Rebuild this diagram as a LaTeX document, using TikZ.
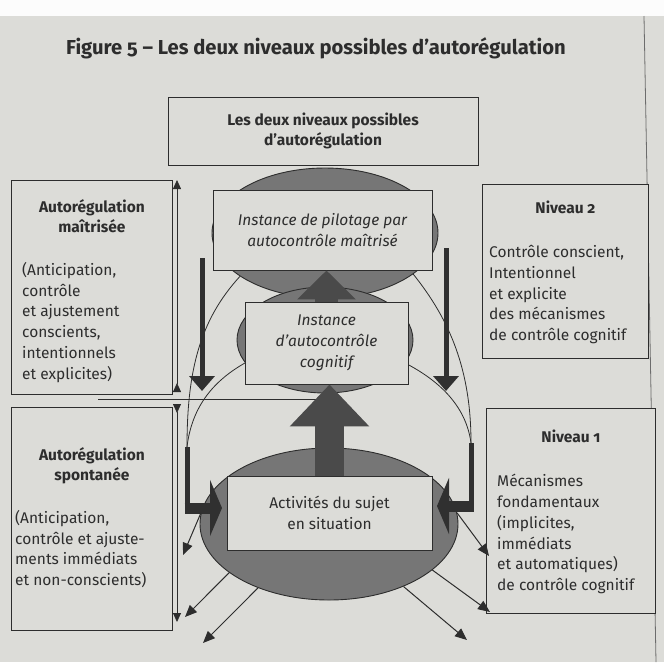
\documentclass[tikz,border=0pt]{standalone}
\usepackage{fontspec}
\setmainfont{Fira Sans}[Numbers=OldStyle]
\usetikzlibrary{positioning, arrows.meta, shapes.geometric}

\definecolor{paper}{RGB}{220,220,216}
\definecolor{ink}{RGB}{45,45,45}
\definecolor{blobgray}{RGB}{118,118,118}
\definecolor{arrowgray}{RGB}{74,74,74}
\definecolor{bargray}{RGB}{48,48,48}

\newcommand{\txt}{\fontsize{15.5}{20.8}\selectfont}

\begin{document}
\begin{tikzpicture}[x=1pt, y=-1pt,
    box/.style={draw=ink, line width=0.9pt, fill=paper, inner sep=0pt},
    blob/.style={ellipse, draw=ink, line width=0.9pt, fill=blobgray, inner sep=0pt},
    inbox/.style={box, align=center, text=ink, font=\txt\itshape},
    label/.style={inner sep=0pt, text=ink, font=\txt},
    head/.style={label, align=center, font=\txt\bfseries},
    body/.style={label, align=left, anchor=north west},
    thin/.style={ink, line width=0.8pt},
    ray/.style={ink, line width=1pt, -{Triangle[length=12pt, width=10pt]}},
    span/.style={thin, {Triangle[reversed, length=9pt, width=8pt]}-{Triangle[length=9pt, width=8pt]}}]
    \fill[paper] (0,0) rectangle (664,662);
    \fill[white!92!paper] (0,0) rectangle (664,16);
    \draw[ink!70, line width=0.8pt] (644,16) -- (656,662);
    \useasboundingbox (0,0) rectangle (664,662);

    \node[label, font=\fontsize{20.2}{24}\selectfont\bfseries] (title) at (316,48) {Figure 5 – Les deux niveaux possibles d’autorégulation};
    \node[box, minimum width=310pt, minimum height=68pt, align=center, text=ink, font=\txt\bfseries] (twolevels) at (323,131) {Les deux niveaux possibles\\d’autorégulation};

    % side boxes
    \node[box, anchor=north west, minimum width=161pt, minimum height=214pt] (mastered) at (11,180) {};
    \node[head, below=19pt of mastered.north] (masteredhead) {Autorégulation\\maîtrisée};
    \node[body, below right=82pt and 11pt of mastered.north west] (masteredtxt) {(Anticipation,\\contrôle\\et ajustement\\conscients,\\intentionnels\\et explicites)};
    \node[box, anchor=north west, minimum width=161pt, minimum height=223pt] (spont) at (11,407) {};
    \node[head, below=40pt of spont.north] (sponthead) {Autorégulation\\spontanée};
    \node[body, below right=103pt and 4pt of spont.north west] (sponttxt) {(Anticipation,\\contrôle et ajuste-\\ments immédiats\\et non-conscients)};
    \node[box, anchor=north west, minimum width=166pt, minimum height=174pt] (level2) at (482,184) {};
    \node[head, below=17pt of level2.north] (level2head) {Niveau 2};
    \node[body, below right=61pt and 7pt of level2.north west] (level2txt) {Contrôle conscient,\\Intentionnel\\et explicite\\des mécanismes\\de contrôle cognitif};
    \node[box, anchor=north west, minimum width=169pt, minimum height=205pt] (level1) at (486,408) {};
    \node[head, below=22pt of level1.north] (level1head) {Niveau 1};
    \node[body, below right=66pt and 11pt of level1.north west] (level1txt) {Mécanismes\\fondamentaux\\(implicites,\\immédiats\\et automatiques)\\de contrôle cognitif};

    \coordinate (spanAbot) at (177,392);
    \coordinate (spanAtop) at (177,180);
    \coordinate (spanBtop) at (177,404);
    \coordinate (spanBbot) at (177,622);
    \draw[span] (spanAbot) -- (spanAtop);
    \draw[span] (spanBtop) -- (spanBbot);
    \coordinate (sepL) at (98,399);
    \coordinate (sepR) at (325,399);
    \draw[thin] (sepL) -- (sepR);

    % centre
    \node[blob, minimum width=226pt, minimum height=130pt] (pilotblob) at (325,233) {};
    \node[blob, minimum width=176pt, minimum height=106pt] (cogblob) at (325,340) {};
    \node[blob, minimum width=258pt, minimum height=152pt] (actblob) at (329,524) {};

    \coordinate (barLtop) at (187,447);
    \coordinate (barLfoot) at (187,508);
    \coordinate (tipL) at (222,508);
    \coordinate (barRtop) at (471,443);
    \coordinate (barRfoot) at (471,506);
    \coordinate (tipR) at (437,506);
    \draw[thin] (pilotblob.207) .. controls (200,320) and (187,370) .. (barLtop);
    \draw[thin] (cogblob.196) .. controls (215,380) and (192,405) .. (barLtop);
    \draw[thin] (pilotblob.335) .. controls (450,320) and (471,370) .. (barRtop);
    \draw[thin] (cogblob.344) .. controls (438,380) and (466,405) .. (barRtop);
    \draw[bargray, line width=5pt] (barLtop) -- (barLfoot);
    \draw[bargray, line width=11pt, -{Triangle[length=12pt, width=56pt]}] ([xshift=-2.5pt]barLfoot) -- (tipL);
    \draw[bargray, line width=5pt] (barRtop) -- (barRfoot);
    \draw[bargray, line width=11pt, -{Triangle[length=12pt, width=56pt]}] ([xshift=2.5pt]barRfoot) -- (tipR);

    \node[inbox, minimum width=219pt, minimum height=80pt] (pilot) at (322.5,230) {Instance de pilotage par\\autocontrôle maîtrisé};
    \node[inbox, minimum width=163pt, minimum height=82pt] (cog) at (326.5,343) {Instance\\d’autocontrôle\\cognitif};
    \node[box, minimum width=205pt, minimum height=74pt, align=center, text=ink, font=\txt] (act) at (329.5,513) {Activités du sujet\\en situation};

    \draw[arrowgray, line width=23pt, -{Triangle[length=29pt, width=57pt]}] (cog.north) -- (cog.north |- pilot.south);
    \draw[arrowgray, line width=29pt, -{Triangle[length=42pt, width=77pt]}] (act.north) -- (act.north |- cog.south);

    \coordinate (downLtop) at (202,258);
    \coordinate (downLend) at (202,391);
    \coordinate (downRtop) at (446,248);
    \coordinate (downRend) at (446,391);
    \draw[bargray, line width=5pt, -{Triangle[length=15pt, width=25pt]}] (downLtop) -- (downLend);
    \draw[bargray, line width=5pt, -{Triangle[length=15pt, width=25pt]}] (downRtop) -- (downRend);

    \coordinate (outL1) at (183,555);
    \coordinate (outL2) at (185,617);
    \coordinate (outL3) at (203,643);
    \coordinate (outR1) at (489,556);
    \coordinate (outR2) at (490,612);
    \coordinate (outR3) at (467,640);
    \draw[ray] (actblob.175) -- (outL1);
    \draw[ray] (actblob.206) -- (outL2);
    \draw[ray] (actblob.222) -- (outL3);
    \draw[ray] (actblob.5) -- (outR1);
    \draw[ray] (actblob.336) -- (outR2);
    \draw[ray] (actblob.320) -- (outR3);
\end{tikzpicture}
\end{document}
